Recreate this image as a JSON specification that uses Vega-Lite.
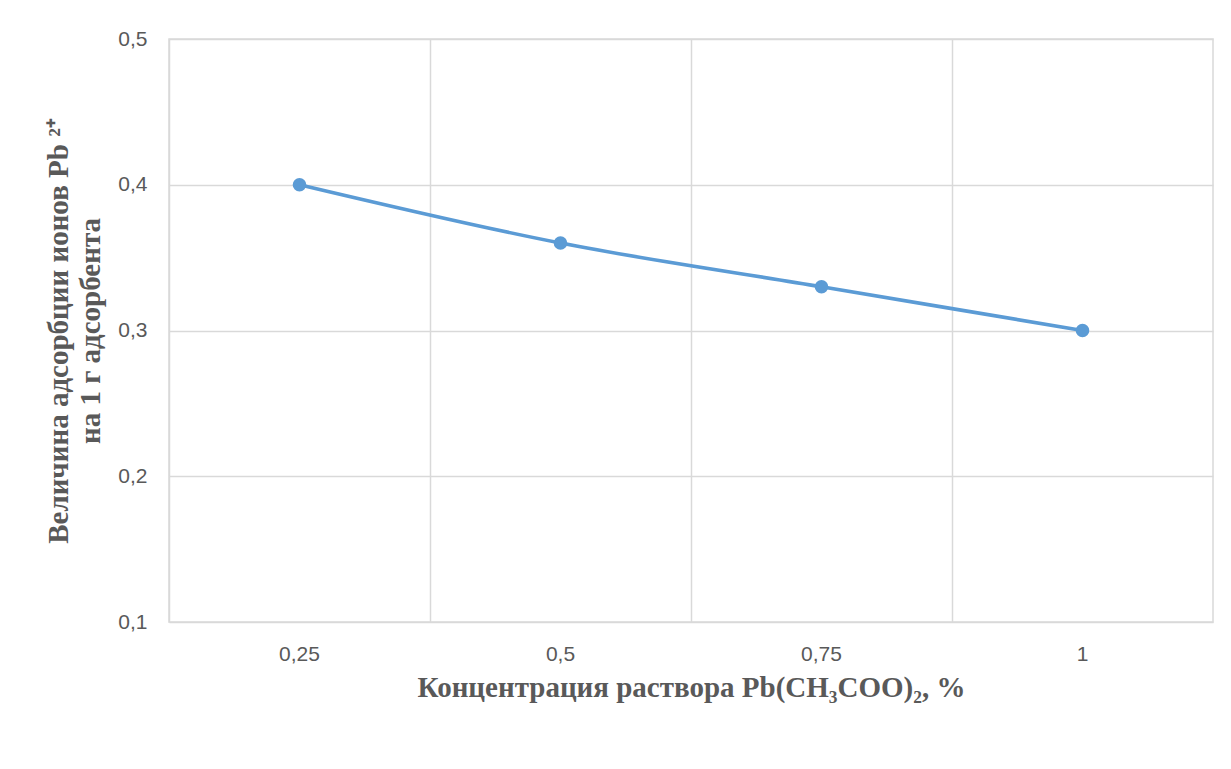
{
  "$schema": "https://vega.github.io/schema/vega-lite/v6.json",
  "autosize": "none",
  "width": 1044,
  "height": 583,
  "padding": {"left": 169, "top": 39, "right": 18, "bottom": 147},
  "background": "white",
  "config": {
    "view": {"stroke": "#D9D9D9", "strokeWidth": 1.5},
    "axis": {
      "labelFont": "Liberation Sans",
      "labelFontSize": 21,
      "labelColor": "#595959",
      "titleFont": "Liberation Serif",
      "titleFontSize": 29,
      "titleFontWeight": "bold",
      "titleColor": "#595959",
      "gridColor": "#D9D9D9",
      "gridWidth": 1.5,
      "domain": false,
      "ticks": false
    }
  },
  "data": {
    "values": [
      {"c": "0,25", "v": 0.40},
      {"c": "0,5", "v": 0.36},
      {"c": "0,75", "v": 0.33},
      {"c": "1", "v": 0.30}
    ]
  },
  "encoding": {
    "x": {
      "field": "c",
      "type": "ordinal",
      "sort": null,
      "scale": {"type": "band", "paddingInner": 0, "paddingOuter": 0},
      "axis": {
        "title": "Концентрация раствора Pb(CH₃COO)₂, %",
        "labelAngle": 0,
        "bandPosition": 0,
        "labelPadding": 21,
        "titlePadding": 9,
        "grid": true
      }
    },
    "y": {
      "field": "v",
      "type": "quantitative",
      "scale": {"domain": [0.1, 0.5], "nice": false, "zero": false},
      "axis": {
        "title": ["Величина адсорбции ионов Pb ²⁺", "на 1 г адсорбента"],
        "values": [0.1, 0.2, 0.3, 0.4, 0.5],
        "labelExpr": "replace(datum.label, '.', ',')",
        "labelPadding": 22,
        "titlePadding": 12,
        "titleLineHeight": 32,
        "grid": true
      }
    }
  },
  "layer": [
    {
      "mark": {"type": "line", "color": "#5B9BD5", "strokeWidth": 3.6, "interpolate": "monotone"}
    },
    {
      "mark": {"type": "point", "filled": true, "color": "#5B9BD5", "opacity": 1, "size": 185}
    }
  ]
}
